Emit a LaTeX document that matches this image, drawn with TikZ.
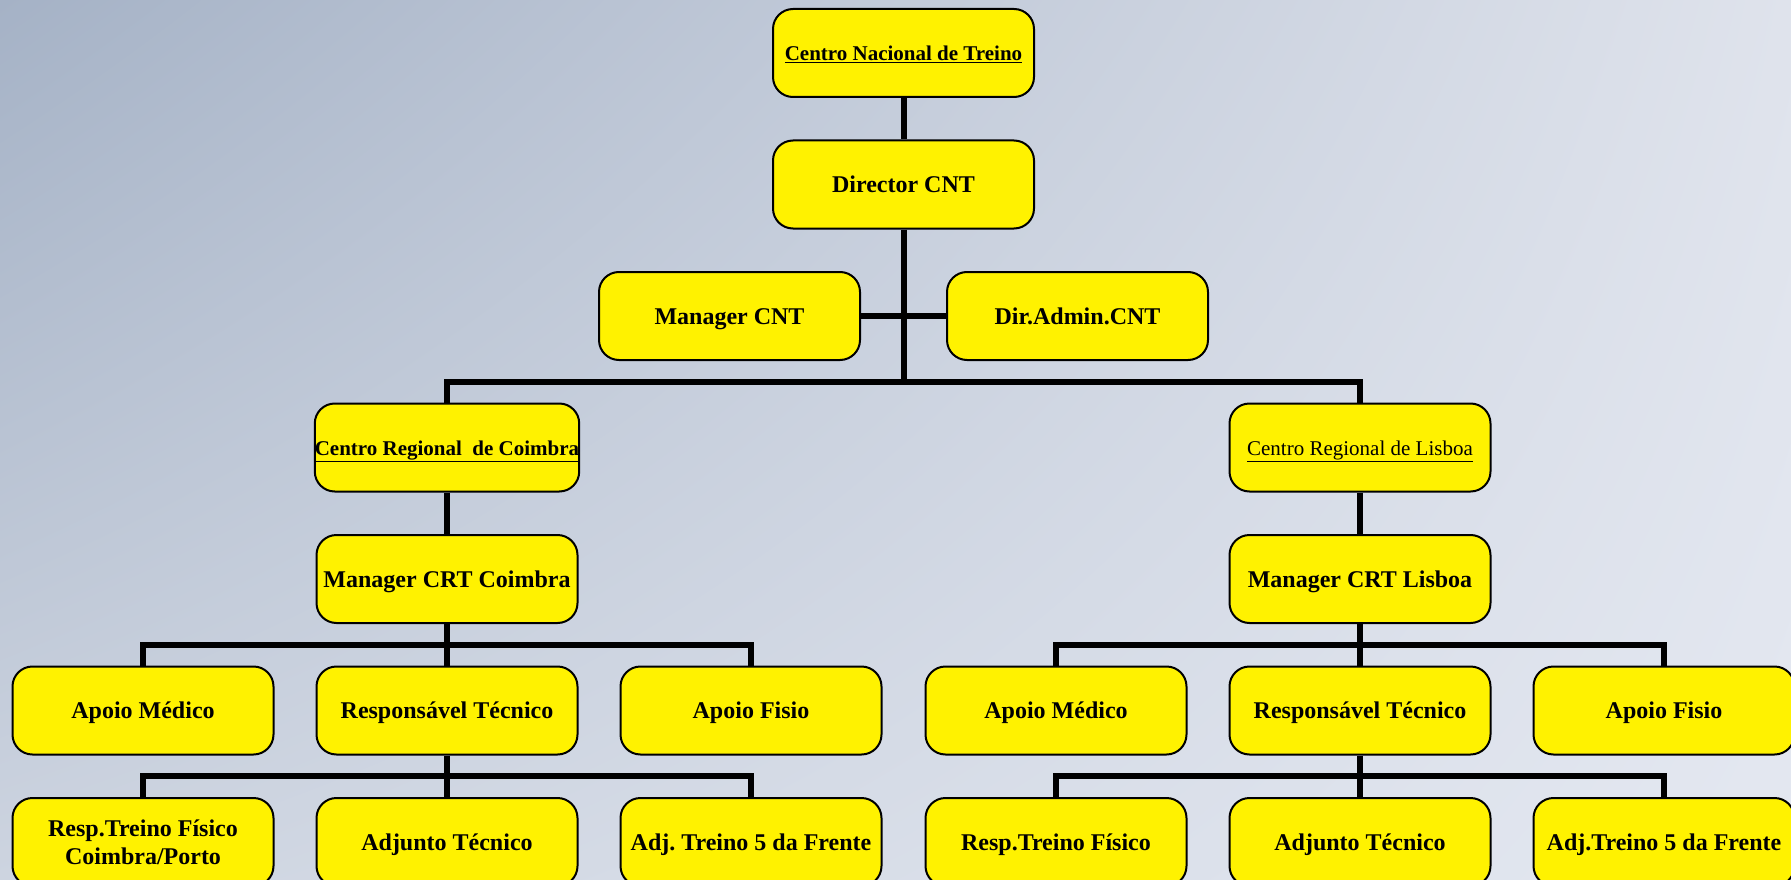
\documentclass[tikz,border=0pt]{standalone}
\usepackage{fontspec}
\setmainfont{Liberation Serif}
\usepackage{xcolor}
\usetikzlibrary{shapes,arrows,positioning,calc,shadings}
\frenchspacing

\definecolor{bgdark}{HTML}{A5B2C6}
\definecolor{bgtop}{HTML}{DFE3EC}
\definecolor{bgleft}{HTML}{CDD4E0}
\definecolor{bglight}{HTML}{E4E8F1}

\begin{document}
\begin{tikzpicture}[
    x=1pt, y=1pt,
    node distance=131.5pt,
    box/.style={rectangle, rounded corners=20pt, draw=black, line width=2pt, fill=yellow, minimum width=261pt, minimum height=88pt, inner sep=0pt, align=center, text height=17pt, text depth=1pt, font=\fontsize{24}{27.6}\selectfont\bfseries},
    twoline/.style={box, text height=, text depth=},
    title/.style={box, text height=15pt, text depth=0pt, font=\fontsize{21}{24}\selectfont\bfseries},
    plain/.style={title, font=\fontsize{21}{24}\selectfont},
    link/.style={line width=6pt}
]
    % background
    \useasboundingbox (0,0) rectangle (1791,-880);
    \shade[upper left=bgdark, upper right=bgtop, lower left=bgleft, lower right=bglight] (0,0) rectangle (1791,-880);

    % national level
    \node[title] (cnt) at (903.5,-53) {\underline{Centro Nacional de Treino}};
    \node[box, below of=cnt] (dir) {Director CNT};
    \node[box, below of=dir, xshift=-174pt] (mgrcnt) {Manager CNT};
    \node[box, below of=dir, xshift=174pt] (admcnt) {Dir.Admin.CNT};

    % regional centres
    \node[title, below of=mgrcnt, xshift=-282.5pt] (crcoi) {\underline{Centro Regional\ \ de Coimbra}};
    \node[plain, below of=admcnt, xshift=282.5pt] (crlis) {\underline{Centro Regional de Lisboa}};
    \node[box, below of=crcoi] (mgrcoi) {Manager CRT Coimbra};
    \node[box, below of=crlis] (mgrlis) {Manager CRT Lisboa};

    % Coimbra staff
    \node[box, below of=mgrcoi] (rescoi) {Respons\'avel T\'ecnico};
    \node[box, left of=rescoi, xshift=-172.5pt] (medcoi) {Apoio M\'edico};
    \node[box, right of=rescoi, xshift=172.5pt] (fiscoi) {Apoio Fisio};
    \node[box, below of=rescoi] (adjcoi) {Adjunto T\'ecnico};
    \node[twoline, left of=adjcoi, xshift=-172.5pt] (treicoi) {Resp.Treino F\'isico\\Coimbra/Porto};
    \node[box, right of=adjcoi, xshift=172.5pt] (frecoi) {Adj. Treino 5 da Frente};

    % Lisboa staff
    \node[box, below of=mgrlis] (reslis) {Respons\'avel T\'ecnico};
    \node[box, left of=reslis, xshift=-172.5pt] (medlis) {Apoio M\'edico};
    \node[box, right of=reslis, xshift=172.5pt] (fislis) {Apoio Fisio};
    \node[box, below of=reslis] (adjlis) {Adjunto T\'ecnico};
    \node[box, left of=adjlis, xshift=-172.5pt] (treilis) {Resp.Treino F\'isico};
    \node[box, right of=adjlis, xshift=172.5pt] (frelis) {Adj.Treino 5 da Frente};

    % connectors
    \coordinate (split) at ($(mgrcnt.south)!0.5!(crcoi.north)$);
    \draw[link] (cnt) -- (dir);
    \draw[link] (dir.south) -- (dir.south |- split);
    \draw[link] (mgrcnt) -- (admcnt);
    \draw[link] (crcoi.north) |- (dir.south |- split) -| (crlis.north);

    \draw[link] (crcoi) -- (mgrcoi);
    \draw[link] (mgrcoi) -- (rescoi);
    \draw[link] (medcoi.north) |- ($(mgrcoi.south)!0.5!(rescoi.north)$) -| (fiscoi.north);
    \draw[link] (rescoi) -- (adjcoi);
    \draw[link] (treicoi.north) |- ($(rescoi.south)!0.5!(adjcoi.north)$) -| (frecoi.north);

    \draw[link] (crlis) -- (mgrlis);
    \draw[link] (mgrlis) -- (reslis);
    \draw[link] (medlis.north) |- ($(mgrlis.south)!0.5!(reslis.north)$) -| (fislis.north);
    \draw[link] (reslis) -- (adjlis);
    \draw[link] (treilis.north) |- ($(reslis.south)!0.5!(adjlis.north)$) -| (frelis.north);
\end{tikzpicture}
\end{document}
